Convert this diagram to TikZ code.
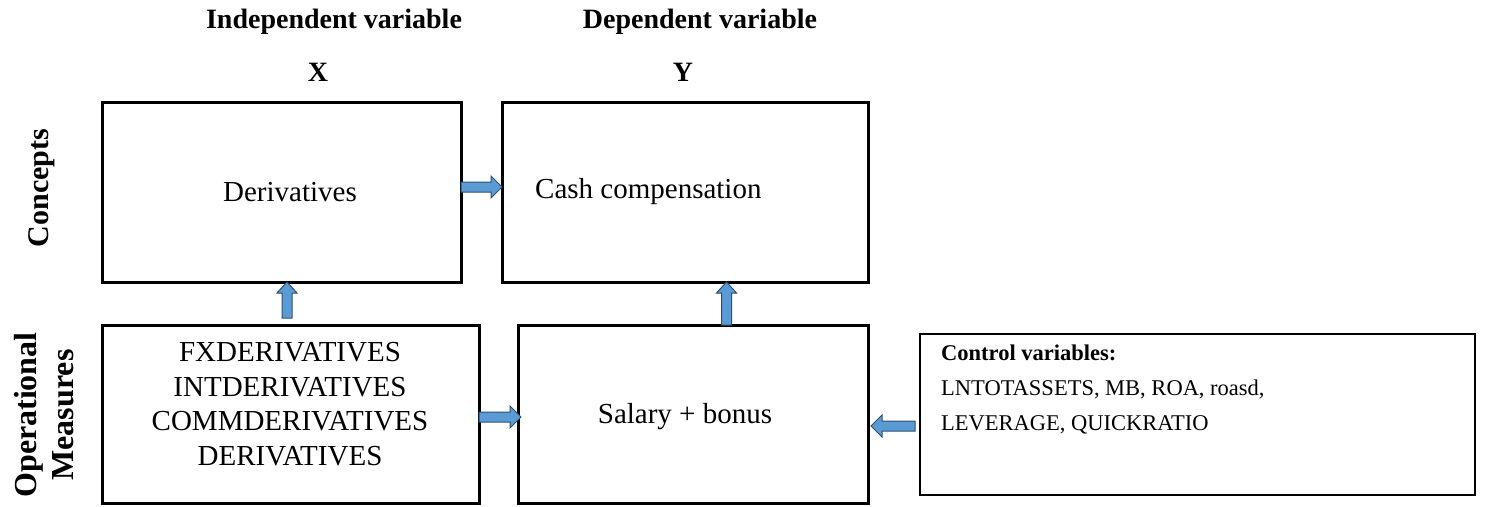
\documentclass[tikz,border=0pt]{standalone}
\usepackage{fontspec}
\setmainfont{Liberation Serif}
\usetikzlibrary{calc}
\definecolor{arrowblue}{HTML}{5B9BD5}
\definecolor{arrowedge}{HTML}{2F4F6F}
\tikzset{
  box/.style={draw=black, line width=3pt, rectangle, inner sep=0pt, outer sep=0pt},
  ctrlbox/.style={draw=black, line width=1.5pt, rectangle, inner sep=0pt, outer sep=0pt},
  btxt/.style={font=\fontsize{29}{34.5}\selectfont, inner sep=0pt, align=center},
  hdr/.style={font=\fontsize{28}{30}\selectfont\bfseries, inner sep=0pt},
  side/.style={rotate=90, align=center, inner sep=0pt},
  barrow/.style={fill=arrowblue, draw=arrowedge, line width=1pt, line join=miter},
  ctxt/.style={font=\fontsize{22.5}{35}\selectfont, inner sep=0pt, align=left}
}
% horizontal block arrow from #1 to #2 (head at #2)
\newcommand{\harrow}[2]{%
  \filldraw[barrow] let \p1=#1, \p2=#2, \n1={sign(\x2-\x1)} in
    (\x1,\y1+5pt) -- (\x2-\n1*11pt,\y1+5pt) -- (\x2-\n1*11pt,\y1+11pt) -- (\x2,\y1)
    -- (\x2-\n1*11pt,\y1-11pt) -- (\x2-\n1*11pt,\y1-5pt) -- (\x1,\y1-5pt) -- cycle;}
% vertical block arrow from #1 to #2 (head at #2)
\newcommand{\varrow}[2]{%
  \filldraw[barrow] let \p1=#1, \p2=#2, \n1={sign(\y2-\y1)} in
    (\x1+5pt,\y1) -- (\x1+5pt,\y2-\n1*11pt) -- (\x1+10pt,\y2-\n1*11pt) -- (\x1,\y2)
    -- (\x1-10pt,\y2-\n1*11pt) -- (\x1-5pt,\y2-\n1*11pt) -- (\x1-5pt,\y1) -- cycle;}
\begin{document}
\begin{tikzpicture}[x=1pt,y=-1pt]
\useasboundingbox (0,0) rectangle (1485,506);
% headers
\node[hdr] (hx) at (334,22) {Independent variable};
\node[hdr] (hy) at (700,22) {Dependent variable};
\node[hdr] (lx) at (318,72) {X};
\node[hdr] (ly) at (683,72) {Y};
% side labels
\node[side, font=\fontsize{30}{32}\selectfont\bfseries] (concepts) at (42,188) {Concepts};
\node[side, font=\fontsize{32}{37}\selectfont\bfseries] (opm) at (44,415) {Operational\\Measures};
% boxes
\node[box, minimum width=359pt, minimum height=180pt] (deriv) at (281.5,192) {};
\node[box, minimum width=366pt, minimum height=180pt] (cash) at (685,192) {};
\node[box, minimum width=377pt, minimum height=178pt] (fx) at (290.5,414) {};
\node[box, minimum width=350pt, minimum height=178pt] (sal) at (693,414) {};
\node[ctrlbox, minimum width=555pt, minimum height=161pt] (ctrl) at (1197.5,414.5) {};
% box texts
\node[btxt] (derivtxt) at (290,192) {Derivatives};
\node[btxt, anchor=west] (cashtxt) at (535,192) {Cash compensation};
\node[btxt] (fxtxt) at (290,404) {FXDERIVATIVES\\INTDERIVATIVES\\COMMDERIVATIVES\\DERIVATIVES};
\node[btxt] (saltxt) at (685,417) {Salary + bonus};
\node[ctxt, anchor=west] (ctrltxt) at (941,390) {\textbf{Control variables:}\\LNTOTASSETS, MB, ROA, roasd,\\LEVERAGE, QUICKRATIO};
% arrows
\coordinate (a1s) at (deriv.east |- 0,187);
\coordinate (a1e) at (cash.west |- 0,187);
\harrow{(a1s)}{(a1e)}
\coordinate (a2s) at (fx.east |- 0,417);
\coordinate (a2e) at (521,417);
\harrow{(a2s)}{(a2e)}
\coordinate (a3s) at (915,426);
\coordinate (a3e) at (871,426);
\harrow{(a3s)}{(a3e)}
\coordinate (a4s) at (287,318);
\coordinate (a4e) at (deriv.south -| 287,0);
\varrow{(a4s)}{(a4e)}
\coordinate (a5s) at (sal.north -| 726.5,0);
\coordinate (a5e) at (cash.south -| 726.5,0);
\varrow{(a5s)}{(a5e)}
\end{tikzpicture}
\end{document}
